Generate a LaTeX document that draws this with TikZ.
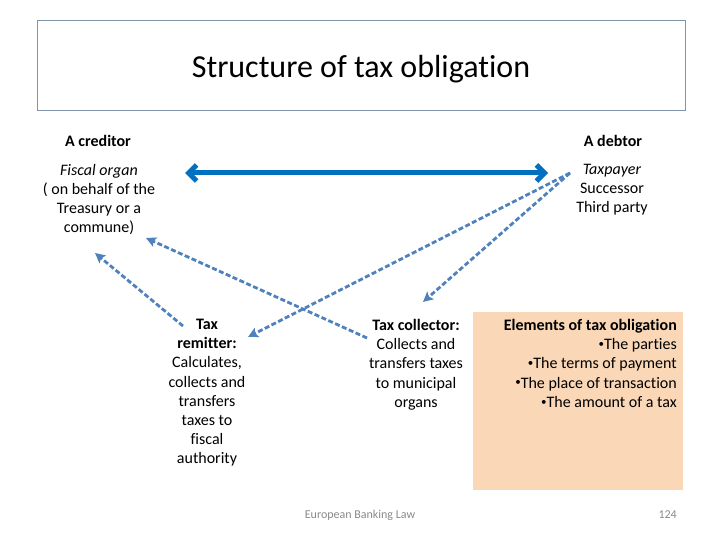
\documentclass[tikz,border=0pt]{standalone}
\usepackage{fontspec}
\setmainfont{Carlito}[Ligatures={NoCommon}]
\usetikzlibrary{arrows.meta}
\definecolor{thickblue}{RGB}{0,112,192}
\definecolor{dashblue}{RGB}{79,129,189}
\definecolor{peach}{RGB}{250,215,182}
\definecolor{framegray}{RGB}{128,148,172}
\definecolor{footgray}{RGB}{137,137,137}
\newcommand{\smbul}{{\fontsize{11}{11}\selectfont\raisebox{2.2pt}{\textbullet}}}
\tikzset{
  body/.style={inner sep=0pt, align=center, font=\fontsize{16}{19.2}\selectfont, text=black},
  bodyr/.style={inner sep=0pt, align=right, font=\fontsize{16}{19.2}\selectfont, text=black},
  head/.style={inner sep=0pt, font=\fontsize{16}{19.2}\selectfont\bfseries},
  bigarrow/.style={draw=thickblue, line width=5pt, {Straight Barb[length=8pt,width=16pt]}-{Straight Barb[length=8pt,width=16pt]}},
  dasharrow/.style={draw=dashblue, line width=2.8pt, dash pattern=on 5pt off 2.5pt, -{Stealth[length=10pt,width=10pt,inset=2pt]}},
}
\begin{document}
\begin{tikzpicture}[x=1pt,y=-1pt]
\useasboundingbox (0,0) rectangle (720,540);
% title frame
\node[draw=framegray, line width=1pt, minimum width=648pt, minimum height=90pt, inner sep=0pt] (title) at (361,66) {};
\node[inner sep=0pt, font=\fontsize{32}{38}\selectfont] (titletext) at (361,69) {Structure of tax obligation};
% peach box
\node[fill=peach, minimum width=210pt, minimum height=178pt, inner sep=0pt, anchor=north west] (elbox) at (473,312) {};
% headers
\node[head] (credhead) at (98,141) {A creditor};
\node[head] (debthead) at (613,141) {A debtor};
% creditor text
\node[body, anchor=north] (cred) at (99,164) {\textit{Fiscal organ}\\( on behalf of the\\Treasury or a\\commune)};
% debtor text
\node[body, anchor=north] (debt) at (612,164) {\textit{Taxpayer}\\Successor\\Third party};
% tax remitter
\node[body, anchor=north] (remit) at (207,319) {\textbf{Tax}\\\textbf{remitter:}\\Calculates,\\collects and\\transfers\\taxes to\\fiscal\\authority};
% tax collector
\node[body, anchor=north] (coll) at (416,319) {\textbf{Tax collector:}\\Collects and\\transfers taxes\\to municipal\\organs};
% elements
\node[bodyr, anchor=north east] (elem) at (677,319) {\textbf{Elements of tax obligation}\\\smbul The parties\\\smbul The terms of payment\\\smbul The place of transaction\\\smbul The amount of a tax};
% footer
\node[inner sep=0pt, font=\fontsize{12}{14}\selectfont, text=footgray] (foot) at (360,515) {European Banking Law};
\node[inner sep=0pt, font=\fontsize{12}{14}\selectfont, text=footgray, anchor=east] (page) at (677,515) {124};
% connector coordinates
\coordinate (bigL) at (185,173);
\coordinate (bigR) at (548,173);
\coordinate (dsrc) at (570,173);
\coordinate (credA) at (146,238);
\coordinate (credB) at (95,253);
\coordinate (collT) at (367,338);
\coordinate (collH) at (423,302);
\coordinate (remT) at (183,326);
\coordinate (remH) at (248,337);
% connectors
\draw[bigarrow] (bigL) -- (bigR);
\draw[dasharrow] (collT) -- (credA);
\draw[dasharrow] (dsrc) -- (remH);
\draw[dasharrow] (remT) -- (credB);
\draw[dasharrow] (dsrc) -- (collH);
\end{tikzpicture}
\end{document}
